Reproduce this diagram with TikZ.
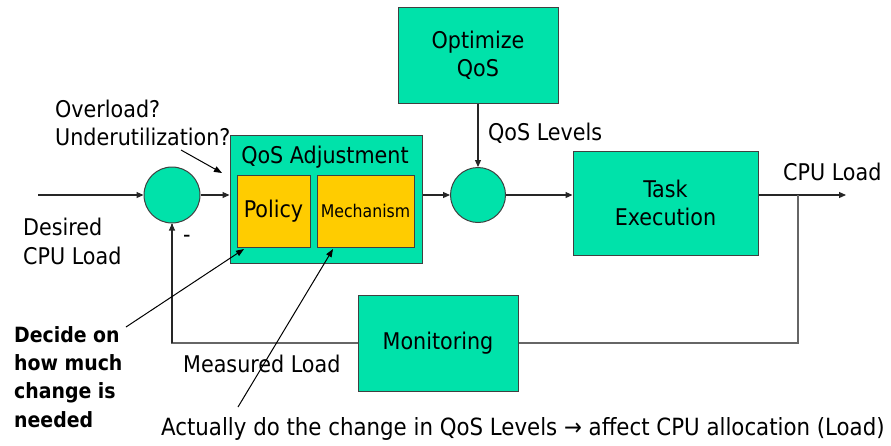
\documentclass[tikz,border=0pt]{standalone}
\usepackage{fontspec}
\setmainfont{DejaVu Sans Condensed}
\usetikzlibrary{arrows.meta}
\definecolor{boxgreen}{RGB}{0,226,170}
\definecolor{boxyellow}{RGB}{255,204,0}
\newcommand{\lbl}{\fontsize{23}{28}\selectfont}
\newcommand{\biglbl}{\fontsize{23.7}{28}\selectfont}
\newcommand{\smlbl}{\fontsize{17.5}{21}\selectfont}
\newcommand{\notelbl}{\fontsize{21}{25}\selectfont\bfseries}
\begin{document}
\begin{tikzpicture}[x=1pt,y=-1pt,
  blk/.style={draw=black!75, line width=1pt, fill=boxgreen, inner sep=0pt, align=center, font=\lbl},
  sub/.style={draw=black!75, line width=1pt, fill=boxyellow, inner sep=0pt, align=center},
  sumc/.style={circle, draw=black!75, line width=1pt, fill=boxgreen, minimum size=56pt, inner sep=0pt},
  flow/.style={draw=black!85, line width=1.1pt, -{Triangle[length=7pt,width=6pt]}},
  fb/.style={draw=black!60, line width=1.3pt},
  note/.style={draw=black, line width=1pt, -{Triangle[length=8pt,width=6pt]}},
  txt/.style={inner sep=0pt, anchor=base west, font=\lbl},
  ntxt/.style={inner sep=0pt, anchor=base west, font=\notelbl},
]
\useasboundingbox (0,0) rectangle (891,445);

% blocks
\node[blk, minimum width=160pt, minimum height=96pt] (opt) at (478,55) {Optimize\\QoS};
\node[blk, minimum width=192pt, minimum height=128pt] (adj) at (326,199) {};
\node[txt, anchor=base] (adjl) at (325,163) {QoS Adjustment};
\node[sub, minimum width=73pt, minimum height=72pt, font=\lbl] (pol) at (273.5,211) {Policy};
\node[sub, minimum width=97pt, minimum height=72pt, font=\smlbl] (mech) at (365.5,211) {Mechanism};
\node[sumc] (c1) at (172,195) {};
\node[sumc, minimum size=55pt] (c2) at (478,195) {};
\node[blk, minimum width=185pt, minimum height=104pt] (task) at (665.5,203) {Task\\Execution};
\node[blk, minimum width=160pt, minimum height=96pt] (mon) at (438,343) {Monitoring};

% connectors
\coordinate (in) at (38,195);
\coordinate (out) at (846,195);
\coordinate (br) at (798,195);
\draw[flow] (in) -- (c1.west);
\draw[flow] (c1.east) -- (c1.east -| adj.west);
\draw[flow] (c2.west -| adj.east) -- (c2.west);
\draw[flow] (c2.east) -- (c2.east -| task.west);
\draw[flow] (br -| task.east) -- (out);
\draw[flow] (opt.south) -- (c2.north);
\draw[fb] (br) |- (mon.east);
\draw[fb] (mon.west) -| (c1.south);
\draw[flow] (c1.south |- mon.west) -- (c1.south);

% labels
\node[txt] (ov1) at (55,117) {Overload?};
\node[txt] (ov2) at (55,145) {Underutilization?};
\node[txt] (des1) at (23,235) {Desired};
\node[txt] (des2) at (23,264) {CPU Load};
\node[txt] (minus) at (183,242) {-};
\node[txt] (qosl) at (488,140) {QoS Levels};
\node[txt] (cpul) at (783,180) {CPU Load};
\node[txt] (meas) at (183,372) {Measured Load};
\node[ntxt] (d1) at (14,342) {Decide on};
\node[ntxt] (d2) at (14,370) {how much};
\node[ntxt] (d3) at (14,398) {change is};
\node[ntxt] (d4) at (14,427) {needed};
\node[txt, font=\biglbl] (act) at (161,435) {Actually do the change in QoS Levels → affect CPU allocation (Load)};

% annotation arrows
\coordinate (ovs) at (181,150);
\coordinate (ove) at (222,173);
\coordinate (ds) at (126,327);
\coordinate (de) at (244,249);
\coordinate (as) at (238,407);
\coordinate (ae) at (333,249);
\draw[note] (ovs) -- (ove);
\draw[note] (ds) -- (de);
\draw[note] (as) -- (ae);
\end{tikzpicture}
\end{document}
